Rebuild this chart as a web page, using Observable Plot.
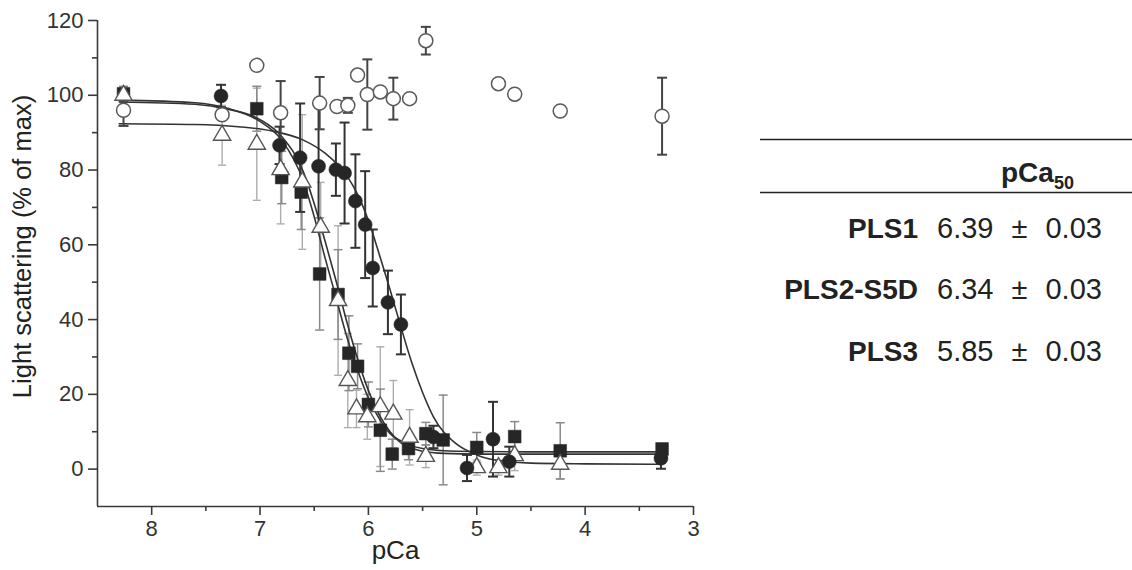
<!DOCTYPE html>
<html>
<head>
<meta charset="utf-8">
<script src="https://cdn.jsdelivr.net/npm/d3@7"></script>
<script src="https://cdn.jsdelivr.net/npm/@observablehq/plot@0.6"></script>
<style>
  body { margin: 0; background: #fff; }
  #wrap { position: relative; width: 1132px; height: 570px; font-family: "Liberation Sans", Arial, sans-serif; }
  #wrap svg { position: absolute; left: 0; top: 0; }
</style>
</head>
<body>
<div id="wrap"></div>
<script>
// ---- axes ----
const xDomain = [8.5, 3];
const yDomain = [-10, 120];
const xTicks = [8, 7, 6, 5, 4, 3];
const xMinor = [7.5, 6.5, 5.5, 4.5, 3.5];
const yTicks = [0, 20, 40, 60, 80, 100, 120];
const yMinor = [10, 30, 50, 70, 90, 110];
const xLabel = "pCa";
const yLabel = "Light scattering (% of max)";

// ---- filled circles ----
const fcX   = [7.36, 6.82, 6.63, 6.46, 6.30, 6.22, 6.12, 6.03, 5.96, 5.82, 5.70, 5.40, 5.09, 4.85, 4.70, 3.30];
const fcY   = [99.8, 86.6, 83.3, 81.0, 80.1, 79.2, 71.7, 65.4, 53.8, 44.6, 38.7, 8.6, 0.3, 8.0, 2.0, 2.9];
const fcErr = [3, 5, 14.5, 17, 7, 13.5, 12.5, 14.3, 10.3, 8.5, 8, 3, 3.5, 10, 4, 2.8];

// ---- filled squares ----
const sqX   = [8.26, 7.03, 6.80, 6.62, 6.45, 6.28, 6.18, 6.10, 6.00, 5.89, 5.78, 5.63, 5.47, 5.31, 5.00, 4.65, 4.23, 3.29];
const sqY   = [100.4, 96.4, 78.0, 74.1, 52.2, 46.7, 31.0, 27.5, 17.3, 10.4, 4.0, 5.5, 9.5, 7.8, 5.8, 8.7, 4.9, 5.4];
const sqErr = [2, 6, 7, 10, 15, 12, 10, 6, 6, 11, 4, 3, 3, 12, 4, 4, 7.5, 1];

// ---- open triangles ----
const trX   = [8.26, 7.35, 7.03, 6.81, 6.61, 6.44, 6.28, 6.19, 6.11, 6.01, 5.89, 5.77, 5.62, 5.47, 5.00, 4.80, 4.65, 4.23];
const trY   = [100.0, 89.3, 86.9, 80.1, 76.8, 64.7, 45.1, 23.7, 16.1, 14.0, 16.7, 14.7, 8.5, 3.4, 0.4, 0.4, 3.6, 1.3];
const trErr = [2, 8, 15, 14.5, 18, 12, 20, 12.6, 5, 6, 16, 9, 7.4, 3, 2, 2, 4, 4];

// ---- open circles ----
const ocX   = [8.26, 7.35, 7.03, 6.81, 6.45, 6.29, 6.19, 6.10, 6.01, 5.89, 5.77, 5.62, 5.47, 4.80, 4.65, 4.23, 3.29];
const ocY   = [96.0, 94.8, 108.0, 95.3, 97.9, 97.0, 97.3, 105.4, 100.2, 100.9, 99.1, 99.1, 114.6, 103.1, 100.3, 95.8, 94.4];
const ocErr = [4.2, 0, 0, 8.5, 7, 0, 2, 0, 9.4, 0, 5.6, 0, 3.7, 0, 1, 0, 10.3];

// ---- fitted curves ----
const fitFcX = [8.3, 7.6, 7.2, 6.9, 6.6, 6.4, 6.2, 6.1, 6.0, 5.9, 5.8, 5.7, 5.6, 5.5, 5.4, 5.2, 5.0, 4.8, 4.5, 4.0, 3.3];
const fitFcY = [92.4, 92.2, 91.6, 90.5, 88.0, 84.5, 78.5, 73.5, 66.5, 57.5, 48.0, 38.0, 28.5, 20.5, 14.0, 7.0, 3.8, 2.3, 1.6, 1.4, 1.3];
const fitX   = [8.3, 7.6, 7.3, 7.0, 6.8, 6.6, 6.5, 6.4, 6.3, 6.2, 6.1, 6.0, 5.9, 5.8, 5.7, 5.5, 5.3, 5.0, 4.5, 3.3];
const fitSqY = [98.7, 98.0, 96.5, 93.0, 88.0, 77.0, 67.5, 56.5, 46.0, 35.5, 26.5, 19.0, 13.5, 9.5, 7.5, 5.5, 4.9, 4.7, 4.6, 4.6];
const fitTrY = [98.2, 97.6, 96.3, 93.5, 89.0, 79.5, 71.0, 61.0, 50.5, 39.5, 29.5, 21.0, 14.5, 10.0, 7.0, 4.8, 4.2, 4.0, 4.0, 4.0];

// ---- table ----
const tableHeader = "pCa";
const tableHeaderSub = "50";
const tableNames = ["PLS1", "PLS2-S5D", "PLS3"];
const tableValues = ["6.39 ± 0.03", "6.34 ± 0.03", "5.85 ± 0.03"];

// ---- build rows ----
const pts = (xs, ys, es) => xs.map((x, i) => ({x, y: ys[i], e: es ? es[i] : 0}));
const fc = pts(fcX, fcY, fcErr);
const sq = pts(sqX, sqY, sqErr);
const tr = pts(trX, trY, trErr);
const oc = pts(ocX, ocY, ocErr);
const fitFc = pts(fitFcX, fitFcY);
const fitSq = pts(fitX, fitSqY);
const fitTr = pts(fitX, fitTrY);

const cap = {
  draw(ctx, size) {
    const w = Math.sqrt(size / Math.PI);
    ctx.moveTo(-w, 0);
    ctx.lineTo(w, 0);
  }
};

function errMarks(data, color, width, capR) {
  const d = data.filter(p => p.e > 0);
  return [
    Plot.ruleX(d, {x: "x", y1: p => p.y - p.e, y2: p => p.y + p.e, stroke: color, strokeWidth: width}),
    Plot.dot(d, {x: "x", y: p => p.y + p.e, symbol: cap, r: capR, fill: "none", stroke: color, strokeWidth: width}),
    Plot.dot(d, {x: "x", y: p => p.y - p.e, symbol: cap, r: capR, fill: "none", stroke: color, strokeWidth: width})
  ];
}

const axisColor = "#3a3a3a";
const textColor = "#333";

const chart = Plot.plot({
  width: 1132,
  height: 570,
  marginLeft: 97,
  marginRight: 439,
  marginTop: 20,
  marginBottom: 64,
  style: {fontFamily: "'Liberation Sans', Arial, sans-serif", background: "transparent"},
  x: {domain: xDomain, label: null},
  y: {domain: yDomain, label: null},
  marks: [
    ...errMarks(tr, "#adadad", 1.4, 4),
    ...errMarks(sq, "#8a8a8a", 1.5, 4.5),
    Plot.line(fitSq, {x: "x", y: "y", stroke: "#333", strokeWidth: 1.6, curve: "monotone-x"}),
    Plot.line(fitTr, {x: "x", y: "y", stroke: "#333", strokeWidth: 1.6, curve: "monotone-x"}),
    Plot.line(fitFc, {x: "x", y: "y", stroke: "#333", strokeWidth: 1.6, curve: "monotone-x"}),
    ...errMarks(fc, "#333", 2, 5),
    ...errMarks(oc, "#444", 2, 5),
    Plot.dot(sq, {x: "x", y: "y", symbol: "square", r: 7.2, fill: "#262626", stroke: "#262626", strokeWidth: 0.5}),
    Plot.dot(tr, {x: "x", y: "y", symbol: "triangle", r: 6.4, fill: "#fff", stroke: "#555", strokeWidth: 1.4}),
    Plot.dot(fc, {x: "x", y: "y", symbol: "circle", r: 7, fill: "#262626", stroke: "#262626", strokeWidth: 0.5}),
    Plot.dot(oc, {x: "x", y: "y", symbol: "circle", r: 7, fill: "#fff", stroke: "#5a5a5a", strokeWidth: 1.5}),
    // axes
    Plot.ruleX([xDomain[0]], {stroke: axisColor, strokeWidth: 1.6}),
    Plot.ruleY([yDomain[0]], {stroke: axisColor, strokeWidth: 1.6}),
    Plot.axisY(yTicks, {anchor: "left", tickSize: 9, tickPadding: 5, fontSize: 22, color: textColor, stroke: axisColor, strokeWidth: 1.6, label: null}),
    Plot.axisY(yMinor, {anchor: "left", tickSize: 5, tickFormat: () => "", stroke: axisColor, strokeWidth: 1.6, label: null}),
    Plot.axisX(xTicks, {anchor: "bottom", tickSize: 9, tickPadding: 5, fontSize: 22, color: textColor, stroke: axisColor, strokeWidth: 1.6, label: null}),
    Plot.axisX(xMinor, {anchor: "bottom", tickSize: 5, tickFormat: () => "", stroke: axisColor, strokeWidth: 1.6, label: null}),
    Plot.text([xLabel], {frameAnchor: "bottom", dy: 52, fontSize: 26, fill: "#222"}),
    Plot.text([yLabel], {frameAnchor: "left", textAnchor: "middle", dx: -75, dy: -17, rotate: -90, fontSize: 25.5, fill: "#222"})
  ]
});

const wrap = document.getElementById("wrap");
wrap.appendChild(chart);

// ---- table overlay ----
const tsvg = d3.select(wrap).append("svg")
  .attr("width", 1132).attr("height", 570)
  .style("font-family", "'Liberation Sans', Arial, sans-serif");

tsvg.append("line").attr("x1", 760).attr("x2", 1132).attr("y1", 139.5).attr("y2", 139.5)
  .attr("stroke", "#222").attr("stroke-width", 1.5);
tsvg.append("line").attr("x1", 760).attr("x2", 1132).attr("y1", 192.5).attr("y2", 192.5)
  .attr("stroke", "#222").attr("stroke-width", 1.5);

const hdr = tsvg.append("text").attr("x", 1001).attr("y", 182)
  .attr("font-size", 28).attr("font-weight", "bold").attr("fill", "#222");
hdr.append("tspan").text(tableHeader);
hdr.append("tspan").attr("dy", 7).attr("font-size", 18).text(tableHeaderSub);

const baselines = [238, 299, 361];
tableNames.forEach((n, i) => {
  tsvg.append("text").attr("x", 918).attr("y", baselines[i]).attr("text-anchor", "end")
    .attr("font-size", 28).attr("font-weight", "bold").attr("fill", "#222").text(n);
  tsvg.append("text").attr("x", 937).attr("y", baselines[i])
    .attr("font-size", 29).attr("fill", "#222").attr("word-spacing", "10px").text(tableValues[i]);
});
</script>
</body>
</html>
